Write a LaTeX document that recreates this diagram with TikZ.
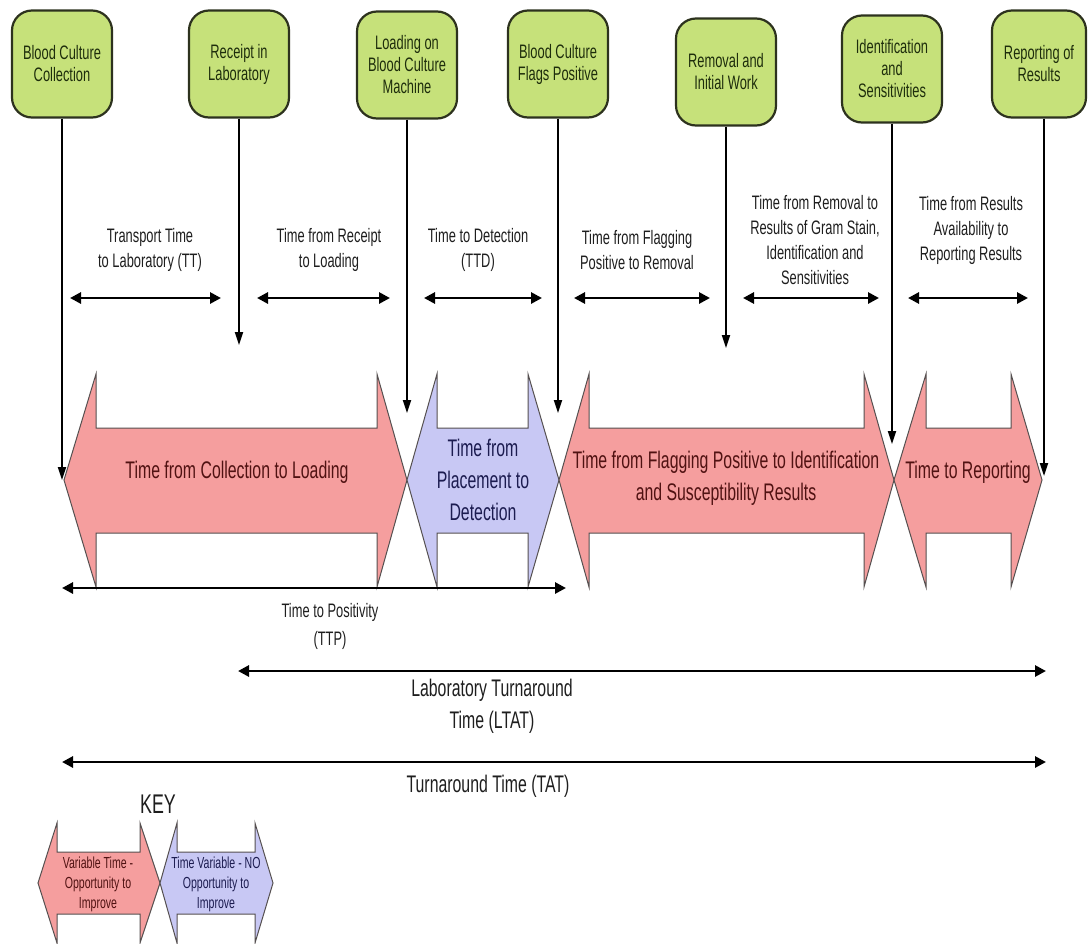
\documentclass[tikz,border=0pt]{standalone}
\usepackage{fontspec}
\setmainfont{Liberation Sans}[FakeStretch=0.66]
\usetikzlibrary{arrows.meta}
\definecolor{boxfill}{RGB}{198,225,122}
\definecolor{boxborder}{RGB}{45,50,30}
\definecolor{boxtext}{RGB}{30,45,12}
\definecolor{redfill}{RGB}{245,158,158}
\definecolor{bluefill}{RGB}{200,200,244}
\definecolor{arrowedge}{RGB}{85,80,80}
\definecolor{redtext}{RGB}{80,18,18}
\definecolor{bluetext}{RGB}{28,28,80}
\definecolor{labeltext}{RGB}{30,30,30}
\tikzset{
  stepbox/.style={draw=boxborder, line width=2.2pt, fill=boxfill, rounded corners=20pt,
    minimum width=100pt, minimum height=107pt, align=center, text=boxtext,
    font=\fontsize{19.5}{22}\selectfont, inner sep=2pt},
  drop/.style={line width=1.8pt, -{Triangle[length=13pt,width=8pt]}},
  span/.style={line width=2.8pt, {Triangle[length=11pt,width=11pt]}-{Triangle[length=11pt,width=11pt]}},
  lbl/.style={align=center, text=labeltext, font=\fontsize{19.5}{25}\selectfont, inner sep=0pt},
  redarrow/.style={fill=redfill, draw=arrowedge, line width=1pt, line join=miter},
  bluearrow/.style={fill=bluefill, draw=arrowedge, line width=1pt, line join=miter},
  bigtext/.style={align=center, font=\fontsize{24}{32}\selectfont, inner sep=0pt},
  keytext/.style={align=center, font=\fontsize{16}{20}\selectfont, inner sep=0pt},
}
\begin{document}
\begin{tikzpicture}[x=1pt,y=-1pt]
\useasboundingbox (0,0) rectangle (1089,943);

% big arrows
\path[redarrow] (64,480) -- (96,374) -- (96,428) -- (377,428) -- (377,374) -- (407,480)
  -- (377,587) -- (377,533) -- (96,533) -- (96,587) -- cycle;
\path[bluearrow] (407,480) -- (437,374) -- (437,428) -- (528,428) -- (528,374) -- (559,480)
  -- (528,587) -- (528,533) -- (437,533) -- (437,587) -- cycle;
\path[redarrow] (559,480) -- (589,374) -- (589,428) -- (864,428) -- (864,374) -- (894,480)
  -- (864,587) -- (864,533) -- (589,533) -- (589,587) -- cycle;
\path[redarrow] (894,480) -- (926,374) -- (926,428) -- (1011,428) -- (1011,374) -- (1042,480)
  -- (1011,587) -- (1011,533) -- (926,533) -- (926,587) -- cycle;

\node[bigtext, text=redtext] (a1) at (237,472) {Time from Collection to Loading};
\node[bigtext, text=bluetext] (a2) at (483,480) {Time from\\Placement to\\Detection};
\node[bigtext, text=redtext] (a3) at (726,478) {Time from Flagging Positive to Identification\\and Susceptibility Results};
\node[bigtext, text=redtext] (a4) at (968,472) {Time to Reporting};

% top boxes
\node[stepbox] (b1) at (62,64) {Blood Culture\\Collection};
\node[stepbox] (b2) at (239,64) {Receipt in\\Laboratory};
\node[stepbox] (b3) at (407,65) {Loading on\\Blood Culture\\Machine};
\node[stepbox] (b4) at (558,64) {Blood Culture\\Flags Positive};
\node[stepbox] (b5) at (726,72) {Removal and\\Initial Work};
\node[stepbox] (b6) at (892,69) {Identification\\and\\Sensitivities};
\node[stepbox, minimum width=94pt] (b7) at (1039,64) {Reporting of\\Results};

% drop arrows
\coordinate (e1) at (62,480);
\coordinate (e2) at (239,345);
\coordinate (e3) at (407,413);
\coordinate (e4) at (558,413);
\coordinate (e5) at (726,348);
\coordinate (e6) at (892,444);
\coordinate (e7) at (1044,476);
\draw[drop] (b1.south) -- (e1);
\draw[drop] (b2.south) -- (e2);
\draw[drop] (b3.south) -- (e3);
\draw[drop] (b4.south) -- (e4);
\draw[drop] (b5.south) -- (e5);
\draw[drop] (b6.south) -- (e6);
\draw[drop] (b7.south -| e7) -- (e7);

% interval arrows
\coordinate (t1a) at (70,298);  \coordinate (t1b) at (221,298);
\coordinate (t2a) at (257,298); \coordinate (t2b) at (390,298);
\coordinate (t3a) at (424,298); \coordinate (t3b) at (542,298);
\coordinate (t4a) at (574,298); \coordinate (t4b) at (710,298);
\coordinate (t5a) at (743,298); \coordinate (t5b) at (879,298);
\coordinate (t6a) at (908,298); \coordinate (t6b) at (1028,298);
\draw[span] (t1a) -- (t1b);
\draw[span] (t2a) -- (t2b);
\draw[span] (t3a) -- (t3b);
\draw[span] (t4a) -- (t4b);
\draw[span] (t5a) -- (t5b);
\draw[span] (t6a) -- (t6b);

\node[lbl] (l1) at (150,250) {Transport Time\\to Laboratory (TT)};
\node[lbl] (l2) at (329,250) {Time from Receipt\\to Loading};
\node[lbl] (l3) at (478,250) {Time to Detection\\(TTD)};
\node[lbl] (l4) at (637,250) {Time from Flagging\\Positive to Removal};
\node[lbl] (l5) at (815,240) {Time from Removal to\\Results of Gram Stain,\\Identification and\\Sensitivities};
\node[lbl] (l6) at (971,230) {Time from Results\\Availability to\\Reporting Results};

% overall spans
\coordinate (p1) at (62,588);  \coordinate (p2) at (566,588);
\coordinate (q1) at (238,671); \coordinate (q2) at (1046,671);
\coordinate (r1) at (62,762);  \coordinate (r2) at (1046,762);
\draw[span] (p1) -- (p2);
\draw[span] (q1) -- (q2);
\draw[span] (r1) -- (r2);
\node[lbl, font=\fontsize{19.5}{28}\selectfont] (ttp) at (330,626) {Time to Positivity\\(TTP)};
\node[lbl, font=\fontsize{24}{32}\selectfont] (ltat) at (492,706) {Laboratory Turnaround\\Time (LTAT)};
\node[lbl, font=\fontsize{24}{32}\selectfont] (tat) at (488,786) {Turnaround Time (TAT)};

% key
\node[lbl, font=\fontsize{27}{30}\selectfont] (key) at (158,804) {KEY};
\path[redarrow] (38,883) -- (57,823) -- (57,852) -- (140,852) -- (140,823) -- (160,883)
  -- (140,943) -- (140,914) -- (57,914) -- (57,943) -- cycle;
\path[bluearrow] (160,883) -- (177,823) -- (177,852) -- (255,852) -- (255,823) -- (273,883)
  -- (255,943) -- (255,914) -- (177,914) -- (177,943) -- cycle;
\node[keytext, text=redtext] (k1) at (98,884) {Variable Time -\\Opportunity to\\Improve};
\node[keytext, text=bluetext] (k2) at (216,884) {Time Variable - NO\\Opportunity to\\Improve};
\end{tikzpicture}
\end{document}
